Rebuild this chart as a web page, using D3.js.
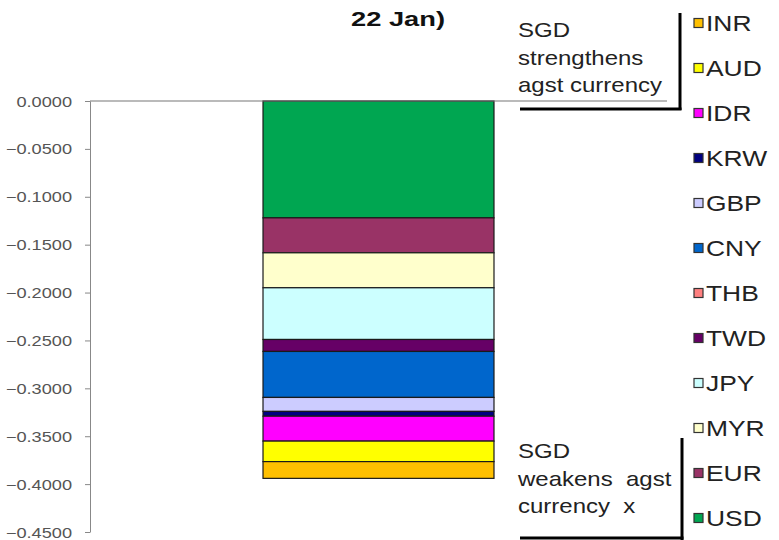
<!DOCTYPE html>
<html lang="en">
<head>
    <meta charset="UTF-8">
    <title>SGD contribution chart</title>
    <script src="https://d3js.org/d3.v7.min.js"></script>
    <style>
        body { margin: 0; background: #fff; }
        svg { font-family: "Liberation Sans", Arial, sans-serif; display: block; }
        .ann { white-space: pre; }
    </style>
</head>
<body>
    <div id="chart"></div>

    <script>
        // stacking order, top of bar first
        const currencies = ["USD", "EUR", "MYR", "JPY", "TWD", "THB", "CNY", "GBP", "KRW", "IDR", "AUD", "INR"];
        const values = [-0.1220, -0.0365, -0.0365, -0.0540, -0.0125, 0.0000, -0.0480, -0.0146, -0.0050, -0.0260, -0.0214, -0.0175];
        const colors = ["#00a651", "#993366", "#ffffcc", "#ccffff", "#660066", "#ff8080", "#0066cc", "#ccccff", "#000080", "#ff00ff", "#ffff00", "#ffc000"];
        const yTicks = [0, -0.05, -0.10, -0.15, -0.20, -0.25, -0.30, -0.35, -0.40, -0.45];
        const legendOrder = currencies.slice().reverse();

        const width = 779, height = 540;

        const svg = d3.select("#chart").append("svg")
            .attr("width", width)
            .attr("height", height);

        const y = d3.scaleLinear().domain([0, -0.45]).range([101, 532]);
        const x = d3.scaleBand().domain(["SGD"]).range([90, 667]).paddingInner(0).paddingOuter(0.749);

        // cumulative stack
        let acc = 0;
        const segs = currencies.map((c, i) => {
            const s = { name: c, y0: acc, y1: acc + values[i], color: colors[i] };
            acc += values[i];
            return s;
        });

        // bar segments
        svg.append("g")
            .selectAll("rect")
            .data(segs.filter(d => d.y0 !== d.y1))
            .enter().append("rect")
            .attr("x", x("SGD"))
            .attr("width", x.bandwidth())
            .attr("y", d => y(d.y0))
            .attr("height", d => y(d.y1) - y(d.y0))
            .attr("fill", d => d.color)
            .attr("stroke", "#1a1a1a")
            .attr("stroke-width", 1.2);

        // y axis
        const yAxis = svg.append("g")
            .attr("transform", "translate(90,0)")
            .call(d3.axisLeft(y).tickValues(yTicks).tickFormat(d3.format(".4f")).tickSize(5).tickSizeOuter(0));
        yAxis.select(".domain").attr("stroke", "#888");
        yAxis.selectAll(".tick line").attr("stroke", "#888");
        yAxis.selectAll(".tick text")
            .attr("x", 0)
            .attr("dy", "0.36em")
            .attr("transform", "translate(-18,0) scale(1.3,1)")
            .attr("fill", "#555")
            .attr("font-size", 14);

        // zero line
        svg.append("line")
            .attr("x1", 90).attr("x2", 667)
            .attr("y1", y(0)).attr("y2", y(0))
            .attr("stroke", "#777")
            .attr("stroke-width", 1.2);

        // title (only its second line shows)
        svg.append("text")
            .attr("transform", "translate(398,26) scale(1.3,1)")
            .attr("text-anchor", "middle")
            .attr("font-weight", "bold")
            .attr("font-size", 21)
            .attr("fill", "#111")
            .text("22 Jan)");

        // annotations
        function note(lines, x0, baselines, vx, vy0, vy1, hy) {
            const g = svg.append("g");
            lines.forEach((t, i) => {
                g.append("text")
                    .attr("class", "ann")
                    .attr("transform", `translate(${x0},${baselines[i]}) scale(1.2,1)`)
                    .attr("font-size", 20)
                    .attr("fill", "#222")
                    .text(t);
            });
            g.append("line")
                .attr("x1", vx).attr("x2", vx).attr("y1", vy0).attr("y2", vy1)
                .attr("stroke", "#000").attr("stroke-width", 3);
            g.append("line")
                .attr("x1", 520).attr("x2", vx + 1.5).attr("y1", hy).attr("y2", hy)
                .attr("stroke", "#000").attr("stroke-width", 3);
        }
        note(["SGD", "strengthens", "agst currency"], 518, [37, 65, 92], 680, 13, 110, 109);
        note(["SGD", "weakens  agst", "currency  x"], 518, [458, 486, 513], 682, 438, 540, 538);

        // legend
        const legend = svg.append("g")
            .selectAll("g")
            .data(legendOrder)
            .enter().append("g")
            .attr("transform", (d, i) => `translate(694,${23 + i * 45})`);

        legend.append("rect")
            .attr("x", 0).attr("y", -4.5)
            .attr("width", 9).attr("height", 9)
            .attr("fill", d => colors[currencies.indexOf(d)])
            .attr("stroke", "#333")
            .attr("stroke-width", 1.2);

        legend.append("text")
            .attr("transform", "translate(12,8) scale(1.2,1)")
            .attr("font-size", 22)
            .attr("fill", "#222")
            .text(d => d);
    </script>
</body>
</html>
